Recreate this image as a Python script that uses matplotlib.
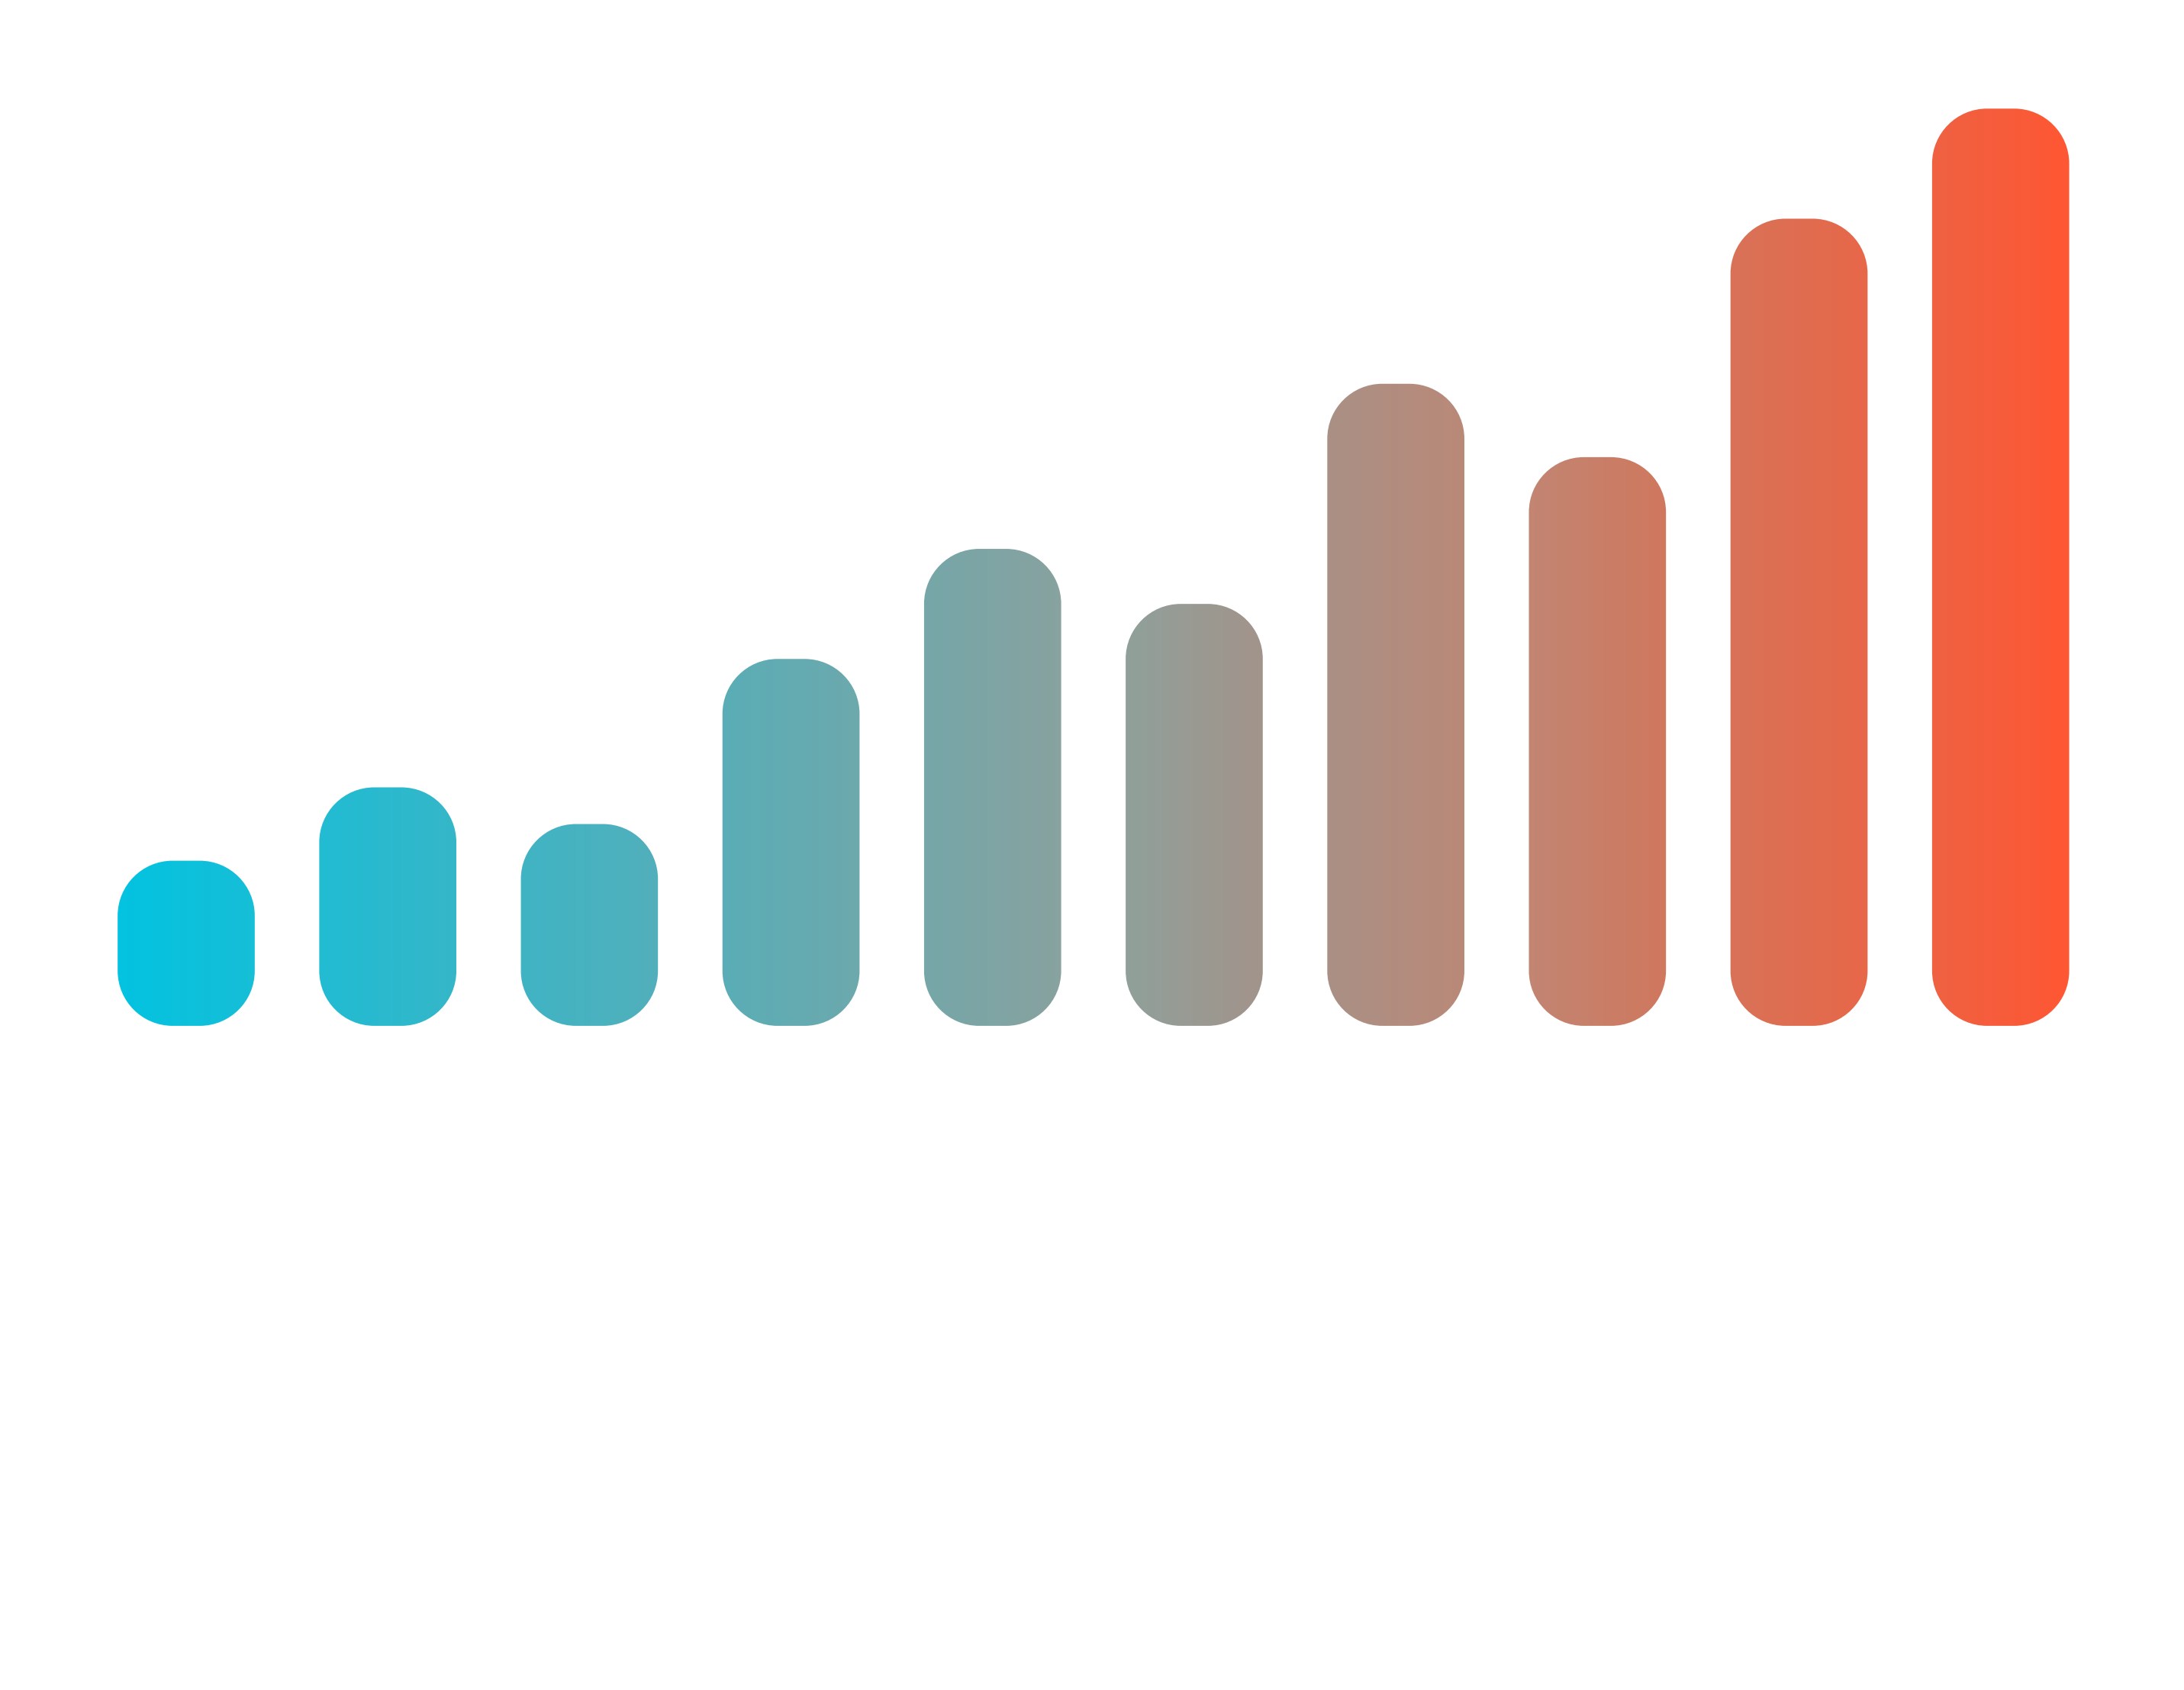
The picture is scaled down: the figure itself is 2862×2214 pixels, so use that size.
import numpy as np
import matplotlib
matplotlib.use("Agg")
import matplotlib.pyplot as plt
from matplotlib.patches import PathPatch
from matplotlib.path import Path
from matplotlib.colors import LinearSegmentedColormap

# bar values (tallest bar = 100)
categories = list(range(10))
values = [18, 26, 22, 40, 52, 46, 70, 62, 88, 100]

# gradient stops, left -> right
grad_pos = [0.0, 0.207, 0.516, 0.586, 0.723, 0.793, 1.0]
grad_rgb = [(3, 195, 224), (64, 180, 196), (144, 160, 155), (162, 148, 139),
            (193, 134, 115), (208, 120, 95), (254, 87, 52)]

BAR_W = 0.68
YMAX = 110
K = 0.5523  # cubic bezier constant for a quarter circle


def rounded_bar(x, w, h, rx, ry):
    # rounded rectangle with circular-looking corners (rx, ry in data units)
    x0, x1, y0, y1 = x, x + w, 0, h
    verts = [
        (x0 + rx, y0),
        (x1 - rx, y0),
        (x1 - rx + K * rx, y0), (x1, y0 + ry - K * ry), (x1, y0 + ry),
        (x1, y1 - ry),
        (x1, y1 - ry + K * ry), (x1 - rx + K * rx, y1), (x1 - rx, y1),
        (x0 + rx, y1),
        (x0 + rx - K * rx, y1), (x0, y1 - ry + K * ry), (x0, y1 - ry),
        (x0, y0 + ry),
        (x0, y0 + ry - K * ry), (x0 + rx - K * rx, y0), (x0 + rx, y0),
        (x0 + rx, y0),
    ]
    codes = [Path.MOVETO, Path.LINETO,
             Path.CURVE4, Path.CURVE4, Path.CURVE4,
             Path.LINETO,
             Path.CURVE4, Path.CURVE4, Path.CURVE4,
             Path.LINETO,
             Path.CURVE4, Path.CURVE4, Path.CURVE4,
             Path.LINETO,
             Path.CURVE4, Path.CURVE4, Path.CURVE4,
             Path.CLOSEPOLY]
    return Path(verts, codes)


cmap = LinearSegmentedColormap.from_list(
    "bars", [(p, tuple(c / 255 for c in rgb)) for p, rgb in zip(grad_pos, grad_rgb)])

fig = plt.figure(figsize=(14.31, 11.07), dpi=200)
ax = fig.add_axes([0.0391, 0.393, 0.9231, 0.597])
ax.set_xlim(-0.5, len(categories) - 0.5)
ax.set_ylim(0, YMAX)
ax.axis('off')

# corner radius ~72 px on screen
bbox = ax.get_window_extent()
px_per_x = bbox.width / len(categories)
px_per_y = bbox.height / YMAX
rx = 72 / px_per_x
ry = 72 / px_per_y

x0 = categories[0] - BAR_W / 2
x1 = categories[-1] + BAR_W / 2
grad = np.linspace(0, 1, 512).reshape(1, -1)

for x, v in zip(categories, values):
    patch = PathPatch(rounded_bar(x - BAR_W / 2, BAR_W, v, rx, min(ry, v / 2)),
                      facecolor='none', edgecolor='none')
    ax.add_patch(patch)
    im = ax.imshow(grad, cmap=cmap, extent=(x0, x1, 0, YMAX),
                   aspect='auto', interpolation='bilinear', zorder=2)
    im.set_clip_path(patch)

ax.set_xlim(-0.5, len(categories) - 0.5)
ax.set_ylim(0, YMAX)

fig.savefig('out.png', dpi=200, facecolor='white')
